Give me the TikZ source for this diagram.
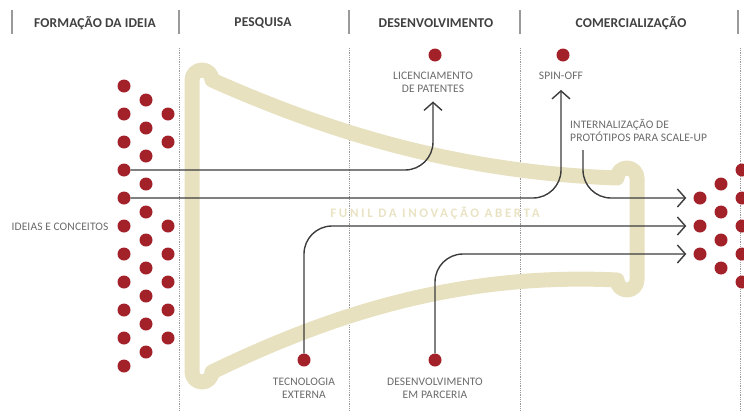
\documentclass[tikz,border=0pt]{standalone}
\usepackage{fontspec}
\setmainfont{Carlito}
\usetikzlibrary{arrows.meta}
\definecolor{dotred}{HTML}{A3222A}
\definecolor{funnelband}{HTML}{E7E1BF}
\definecolor{funneltext}{HTML}{E9E3C4}
\definecolor{linegray}{HTML}{3C3C3C}
\definecolor{labelgray}{HTML}{6A6A6A}
\definecolor{rulegray}{HTML}{9A9A9A}

\begin{document}
\begin{tikzpicture}[x=1pt,y=-1pt,
  dot/.style={circle,fill=dotred,minimum size=13pt,inner sep=0pt},
  phase/.style={font=\fontsize{13.5}{15}\selectfont\bfseries\addfontfeature{LetterSpace=1},
    text=black!75},
  lbl/.style={font=\fontsize{11.5}{13}\selectfont\addfontfeature{LetterSpace=1},
    text=labelgray,inner sep=0pt,align=center},
  flow/.style={draw=linegray,line width=1.4pt,rounded corners=28pt,
    -{Straight Barb[length=8pt,width=18pt]}},
  sep/.style={draw=rulegray,line width=1.5pt},
  stage/.style={draw=rulegray,line width=0.8pt,densely dotted}]
\useasboundingbox (0,0) rectangle (744,410);

% phases
\node[phase] (ideia) at (95,23) {FORMAÇÃO DA IDEIA};
\node[phase] (pesquisa) at (263,23) {PESQUISA};
\node[phase] (desenv) at (436,23) {DESENVOLVIMENTO};
\node[phase] (comerc) at (631,23) {COMERCIALIZAÇÃO};
\draw[sep] (12,10) -- (12,34);
\draw[sep] (179,10) -- (179,34);
\draw[sep] (349,10) -- (349,34);
\draw[sep] (520,10) -- (520,34);
\draw[sep] (738,10) -- (738,34);
\draw[stage] (179,48) -- (179,410);
\draw[stage] (349,48) -- (349,410);
\draw[stage] (520,48) -- (520,410);
\draw[stage] (740,48) -- (740,410);

% funnel
\draw[funnelband,line width=15pt,line join=round]
  (192,80) arc[start angle=180,end angle=360,radius=10]
  .. controls (320,128) and (450,172) .. (617,178)
  arc[start angle=180,end angle=360,radius=10] -- (637,280)
  arc[start angle=0,end angle=180,radius=10]
  .. controls (450,272) and (320,320) .. (212,372)
  arc[start angle=0,end angle=180,radius=10] -- cycle;
\node[font=\fontsize{13}{15}\selectfont\bfseries\addfontfeature{LetterSpace=20},
  text=funneltext] (funil) at (435,213) {FUNIL DA INOVAÇÃO ABERTA};

% ideas
\foreach \k in {0,...,10}
  \node[dot] (a\k) at (124,86+28*\k) {};
\foreach \k in {0,...,9}
  \node[dot] (b\k) at (146,100+28*\k) {};
\foreach \y in {114,142,226,254,282,310,338}
  \node[dot] at (168,\y) {};
\node[lbl] (ideias) at (60,227) {IDEIAS E CONCEITOS};

% market
\node[dot] (r1) at (700,198) {};
\node[dot] (r2) at (700,226) {};
\node[dot] (r3) at (700,254) {};
\foreach \y in {184,212,240,268}
  \node[dot] at (721,\y) {};
\foreach \y in {170,198,226,254,282}
  \node[dot] at (742,\y) {};

% outside
\node[dot] (lic-dot) at (435,55) {};
\node[lbl] (lic) at (433,82) {LICENCIAMENTO\\DE PATENTES};
\node[dot] (spin-dot) at (563,55) {};
\node[lbl] (spin) at (561,76) {SPIN-OFF};
\node[lbl,align=left,anchor=west] (int) at (570,130)
  {INTERNALIZAÇÃO DE\\PROTÓTIPOS PARA SCALE-UP};
\coordinate (int-out) at (583,150);
\node[dot] (tec-dot) at (304,360) {};
\node[lbl] (tec) at (304,388) {TECNOLOGIA\\EXTERNA};
\node[dot] (dev-dot) at (435,360) {};
\node[lbl] (dev) at (435,388) {DESENVOLVIMENTO\\EM PARCERIA};

\draw[flow,shorten >=9pt] (a3) -| (lic);
\draw[flow,shorten >=10pt] (a4) -| (spin);
\draw[flow,shorten >=7pt] (int-out) |- (r1);
\draw[flow,shorten >=7pt] (tec-dot) |- (r2);
\draw[flow,shorten >=7pt] (dev-dot) |- (r3);
\end{tikzpicture}
\end{document}
